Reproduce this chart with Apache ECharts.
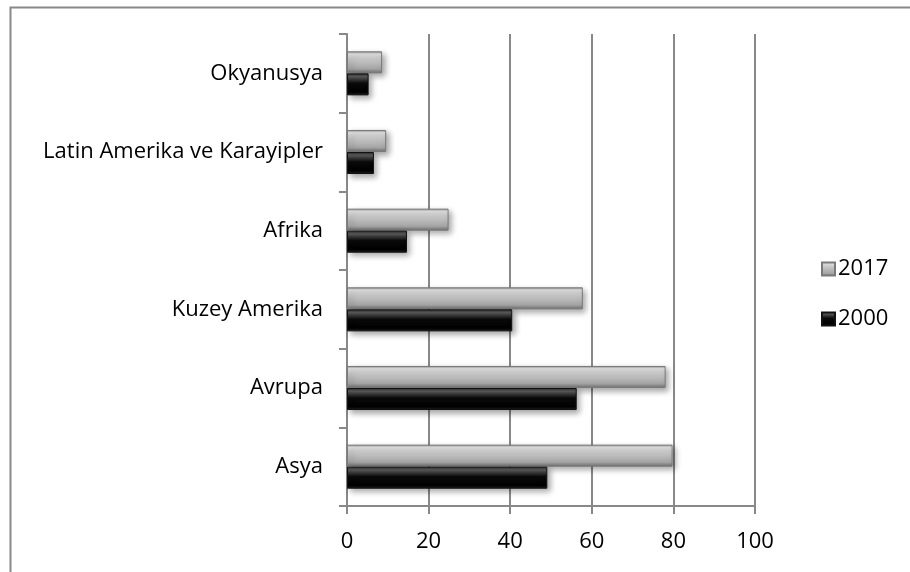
<!DOCTYPE html>
<html>
<head>
<meta charset="utf-8">
<script src="https://cdn.jsdelivr.net/npm/echarts@6/dist/echarts.min.js"></script>
<style>
  html, body { margin: 0; padding: 0; background: #fff; }
  #chart { width: 910px; height: 572px; }
</style>
</head>
<body>
<div id="chart"></div>
<script>
// bölgeler, aşağıdan yukarı
const regions = ["Asya", "Avrupa", "Kuzey Amerika", "Afrika", "Latin Amerika ve Karayipler", "Okyanusya"];
const values2000 = [49.1, 56.3, 40.5, 14.7, 6.6, 5.3];
const values2017 = [79.8, 78.1, 57.8, 24.9, 9.6, 8.6];
const xTicks = [0, 20, 40, 60, 80, 100];

const chart = echarts.init(document.getElementById("chart"));

const greyFill = new echarts.graphic.LinearGradient(0, 0, 0, 1, [
  { offset: 0, color: "#8a8a8a" },
  { offset: 0.12, color: "#e0e0e0" },
  { offset: 0.35, color: "#c8c8c8" },
  { offset: 0.8, color: "#a4a4a4" },
  { offset: 1, color: "#6e6e6e" }
]);
const blackFill = new echarts.graphic.LinearGradient(0, 0, 0, 1, [
  { offset: 0, color: "#2a2a2a" },
  { offset: 0.15, color: "#5a5a5a" },
  { offset: 0.45, color: "#0a0a0a" },
  { offset: 0.85, color: "#000" },
  { offset: 1, color: "#222" }
]);

const font = "Open Sans";

const option = {
  animation: false,
  textStyle: { fontFamily: font },
  grid: { left: 347, right: 155, top: 34, bottom: 66 },
  legend: {
    orient: "vertical",
    left: 816,
    top: 253,
    icon: "rect",
    itemWidth: 13,
    itemHeight: 13,
    itemGap: 28,
    data: ["2017", "2000"],
    textStyle: { fontSize: 22, color: "#000", fontFamily: font, padding: [0, 0, 0, -2] }
  },
  xAxis: {
    type: "value",
    min: 0,
    max: 100,
    interval: 20,
    axisLine: { show: true, lineStyle: { color: "#888", width: 2 } },
    axisTick: { show: true, length: 8, lineStyle: { color: "#888", width: 2 } },
    splitLine: { show: true, lineStyle: { color: "#888", width: 2 } },
    axisLabel: {
      fontSize: 22, color: "#000", margin: 25,
      formatter: v => xTicks.includes(v) ? String(v) : ""
    }
  },
  yAxis: {
    type: "category",
    data: regions,
    axisLine: { show: true, lineStyle: { color: "#888", width: 2 } },
    axisTick: { show: true, length: 8, lineStyle: { color: "#888", width: 2 } },
    axisLabel: { fontSize: 22, color: "#000", margin: 24 }
  },
  series: [
    {
      name: "2017",
      type: "bar",
      data: values2017,
      barCategoryGap: "44%",
      barGap: "0%",
      itemStyle: {
        color: greyFill,
        borderColor: "#7a7a7a",
        borderWidth: 1,
        shadowColor: "rgba(0,0,0,0.35)",
        shadowBlur: 6,
        shadowOffsetX: 3,
        shadowOffsetY: 3
      }
    },
    {
      name: "2000",
      type: "bar",
      data: values2000,
      barCategoryGap: "44%",
      barGap: "0%",
      itemStyle: {
        color: blackFill,
        borderColor: "#111",
        borderWidth: 1,
        shadowColor: "rgba(0,0,0,0.35)",
        shadowBlur: 6,
        shadowOffsetX: 3,
        shadowOffsetY: 3
      }
    }
  ],
  graphic: [
    {
      type: "rect",
      left: 8, top: 5,
      shape: { x: 0, y: 0, width: 910, height: 566 },
      style: { fill: "none", stroke: "#888", lineWidth: 2 },
      silent: true
    }
  ]
};

chart.setOption(option);
</script>
</body>
</html>
